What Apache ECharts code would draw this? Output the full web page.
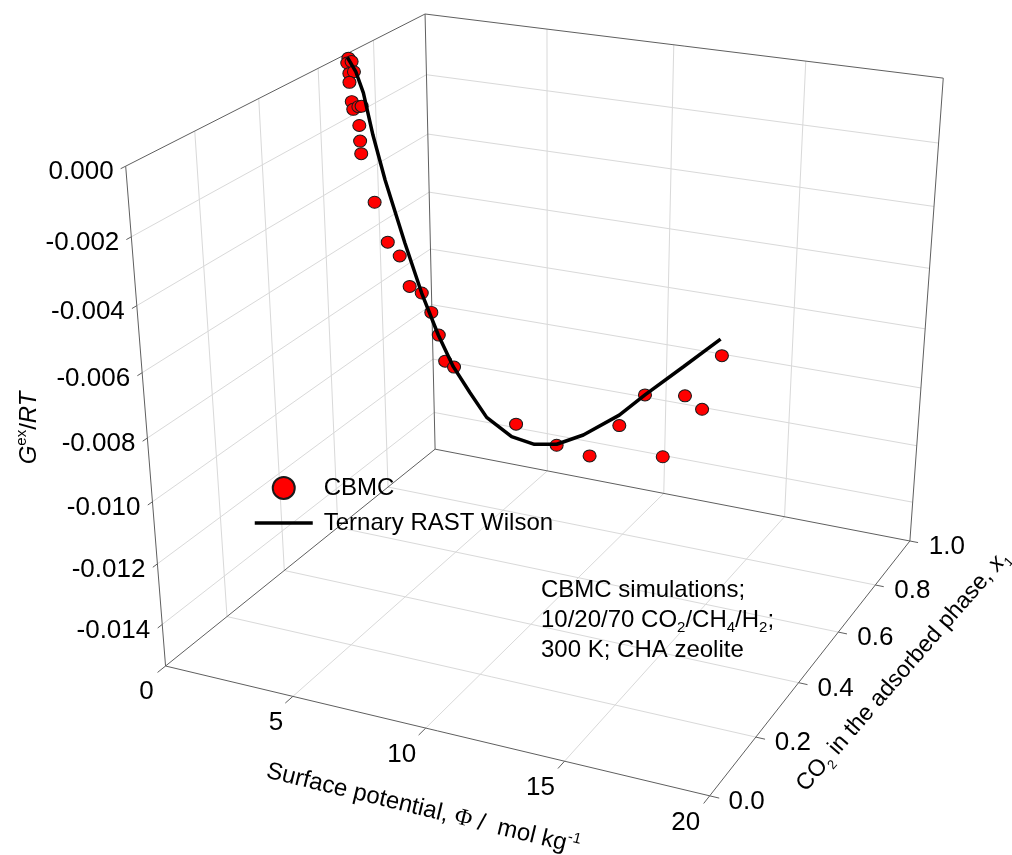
<!DOCTYPE html>
<html><head><meta charset="utf-8"><style>html,body{margin:0;padding:0;background:#fff}#c{width:1012px;height:855px}</style>
<script src="https://cdn.jsdelivr.net/npm/echarts@6/dist/echarts.min.js"></script></head>
<body><div id="c"></div>
<script>
// Tick values
var phiTicks=[0,5,10,15,20];
var x1Ticks=[0,0.2,0.4,0.6,0.8,1];
var gTicks=[0,-0.002,-0.004,-0.006,-0.008,-0.01,-0.012,-0.014];
var phiTickLabels=['0','5','10','15','20'];
var x1TickLabels=['0.0','0.2','0.4','0.6','0.8','1.0'];
var gTickLabels=['0.000','-0.002','-0.004','-0.006','-0.008','-0.010','-0.012','-0.014'];
// CBMC simulation points
var cbmcPhi=[0.08,0.14,0.09,0.21,0.17,0.20,0.15,0.20,0.30,0.32,0.31,0.32,0.46,0.83,1.21,1.58,1.85,2.24,2.62,2.91,3.26,3.52,5.97,7.73,9.16,10.16,11.07,12.23,12.71,13.54,13.92];
var cbmcX1=[0.70,0.69,0.71,0.69,0.71,0.69,0.70,0.70,0.71,0.72,0.71,0.71,0.70,0.71,0.72,0.73,0.74,0.75,0.75,0.75,0.74,0.75,0.76,0.75,0.74,0.76,0.77,0.72,0.76,0.74,0.78];
var cbmcG=[-0.00012,-0.00022,-0.00027,-0.00054,-0.00058,-0.00082,-0.00148,-0.00172,-0.00167,-0.00170,-0.00227,-0.00277,-0.00311,-0.00470,-0.00603,-0.00650,-0.00755,-0.00778,-0.00839,-0.00913,-0.00992,-0.01015,-0.01184,-0.01223,-0.01230,-0.01122,-0.01009,-0.01168,-0.00980,-0.00999,-0.00840];
// Ternary RAST Wilson curve
var rastPhi=[0.04,0.14,0.25,0.41,0.63,0.96,1.65,2.24,2.89,3.49,4.17,4.85,5.83,6.77,7.64,8.72,10.11,11.07,12.50,13.85];
var rastX1=[0.70,0.70,0.71,0.72,0.73,0.74,0.745,0.75,0.75,0.75,0.75,0.75,0.755,0.755,0.76,0.76,0.765,0.77,0.775,0.78];
var rastG=[-0.00010,-0.00023,-0.00058,-0.00127,-0.00264,-0.00411,-0.00615,-0.00779,-0.00913,-0.01014,-0.01095,-0.01171,-0.01227,-0.01239,-0.01228,-0.01178,-0.01090,-0.01009,-0.00895,-0.00786];

// Axis ranges and the camera of the 3D box
var phiMax=20, x1Max=1, gMin=-0.0154, gMax=0;
var camera=[484.740435,348.465776,-51.639813,165.549074,63.212751,-135.375278,-515.386618,666.003153,-0.083703,0.181387,-0.093598];
function project(phi,x1,g){
  var a=phi/phiMax,b=x1/x1Max,c=(g-gMin)/(gMax-gMin),m=camera;
  var w=m[8]*a+m[9]*b+m[10]*c+1;
  return [(m[0]*a+m[1]*b+m[2]*c+m[3])/w,(m[4]*a+m[5]*b+m[6]*c+m[7])/w];
}
function triples(p,x,g){return p.map(function(v,i){return project(v,x[i],g[i]);});}

var gridSegs=[],axisSegs=[];
function seg(list,p,q){list.push(project(p[0],p[1],p[2]),project(q[0],q[1],q[2]),[null,null]);}
phiTicks.forEach(function(t){
  if(t>0&&t<phiMax){seg(gridSegs,[t,0,gMin],[t,x1Max,gMin]);seg(gridSegs,[t,x1Max,gMin],[t,x1Max,gMax]);}
  seg(axisSegs,[t,0,gMin],[t,-0.025,gMin]);
});
x1Ticks.forEach(function(t){
  if(t>0&&t<x1Max){seg(gridSegs,[0,t,gMin],[phiMax,t,gMin]);seg(gridSegs,[0,t,gMin],[0,t,gMax]);}
  seg(axisSegs,[phiMax,t,gMin],[phiMax*1.016,t,gMin]);
});
gTicks.forEach(function(t){
  if(t<0){seg(gridSegs,[0,0,t],[0,x1Max,t]);seg(gridSegs,[0,x1Max,t],[phiMax,x1Max,t]);}
  seg(axisSegs,[0,0,t],[0,-0.014,t]);
});
[[[0,0,gMin],[phiMax,0,gMin]],[[phiMax,0,gMin],[phiMax,x1Max,gMin]],[[phiMax,x1Max,gMin],[0,x1Max,gMin]],[[0,x1Max,gMin],[0,0,gMin]],
 [[0,0,gMin],[0,0,gMax]],[[0,x1Max,gMin],[0,x1Max,gMax]],[[phiMax,x1Max,gMin],[phiMax,x1Max,gMax]],
 [[0,0,gMax],[0,x1Max,gMax]],[[0,x1Max,gMax],[phiMax,x1Max,gMax]]].forEach(function(s){seg(axisSegs,s[0],s[1]);});

function labelSeries(name,ticks,labels,at,align,offsets){
  return {name:name,type:'scatter',symbolSize:0,silent:true,z:6,itemStyle:{opacity:1},
    data:ticks.map(function(t,i){return {value:at(t),label:{formatter:labels[i],offset:offsets[i]||offsets[0]}};}),
    label:{show:true,position:'inside',align:align,verticalAlign:'middle',color:'#000',opacity:1,fontSize:26,fontFamily:'Liberation Sans'}};
}
var rich={n:{fontSize:24,fontFamily:'Liberation Sans',color:'#000',lineHeight:30},
  i:{fontSize:24,fontFamily:'Liberation Sans',fontStyle:'italic',color:'#000',lineHeight:30},
  p:{fontSize:24,fontFamily:'Liberation Serif',color:'#000',lineHeight:30},
  s:{fontSize:15,fontFamily:'Liberation Sans',color:'#000',lineHeight:30,verticalAlign:'bottom'},
  u:{fontSize:15,fontFamily:'Liberation Sans',color:'#000',lineHeight:30,verticalAlign:'top'},
  n2:{fontSize:23.3,fontFamily:'Liberation Sans',color:'#000',lineHeight:30},
  i2:{fontSize:23.3,fontFamily:'Liberation Sans',fontStyle:'italic',color:'#000',lineHeight:30},
  s2:{fontSize:13,fontFamily:'Liberation Sans',color:'#000',lineHeight:30,verticalAlign:'bottom'}};
function txt(text,x,y,rot,align){
  return {type:'text',x:x,y:y,rotation:rot||0,z:10,silent:true,
    style:{text:text,rich:rich,font:'24px "Liberation Sans"',fill:'#000',align:align||'center',verticalAlign:'middle'}};
}

var chart=echarts.init(document.getElementById('c'));
chart.setOption({
  animation:false,backgroundColor:'#fff',tooltip:{show:false},
  grid:{left:0,right:0,top:0,bottom:0},
  xAxis:{type:'value',min:0,max:1012,show:false},
  yAxis:{type:'value',min:0,max:855,inverse:true,show:false},
  legend:{data:[{name:'CBMC'},{name:'Ternary RAST Wilson',itemStyle:{color:'transparent',borderColor:'transparent',opacity:0},lineStyle:{color:'#000',width:3.5}}],
    orient:'vertical',left:248,top:471,itemWidth:58,itemHeight:22,itemGap:11,selectedMode:false,
    textStyle:{fontSize:24,fontFamily:'Liberation Sans',color:'#000',padding:[0,0,0,6]}},
  series:[
    {name:'grid',type:'line',data:gridSegs,symbol:'none',silent:true,z:1,lineStyle:{color:'#d9d9d9',width:1}},
    {name:'box',type:'line',data:axisSegs,symbol:'none',silent:true,z:2,lineStyle:{color:'#5f5f5f',width:1}},
    {name:'CBMC',type:'scatter',data:triples(cbmcPhi,cbmcX1,cbmcG),symbol:'circle',symbolSize:[13,12],z:3,
      itemStyle:{color:'#ff0000',borderColor:'#1a1a1a',borderWidth:1,opacity:1}},
    {name:'Ternary RAST Wilson',type:'line',data:triples(rastPhi,rastX1,rastG),symbol:'none',z:4,smooth:false,
      lineStyle:{color:'#000',width:3.5},itemStyle:{color:'#000'}},
    labelSeries('phi labels',phiTicks,phiTickLabels,function(t){return project(t,0,gMin);},'center',[[-19,26],[-17,26],[-24,27],[-24,27],[-24,27]]),
    labelSeries('x1 labels',x1Ticks,x1TickLabels,function(t){return project(phiMax,t,gMin);},'center',[[37,6]]),
    labelSeries('g labels',gTicks,gTickLabels,function(t){return project(0,0,t);},'right',[[-12,6]])
  ],
  graphic:[
    txt('{i|G}{u|ex}{n|/}{i|RT}',29,428,Math.PI/2),
    txt('{n|Surface potential, }{p|\u03A6}{n| /  mol kg}{u|-1}',423,809,-0.24),
    txt('{n2|CO}{s2|2}{n2| in the adsorbed phase, }{i2|x}{s2|1}',903,671,0.855),
    txt('{n|CBMC simulations;}',541,590,0,'left'),
    txt('{n|10/20/70 CO}{s|2}{n|/CH}{s|4}{n|/H}{s|2}{n|;}',541,620,0,'left'),
    txt('{n|300 K; CHA zeolite}',541,650,0,'left')
  ]
});
</script></body></html>
